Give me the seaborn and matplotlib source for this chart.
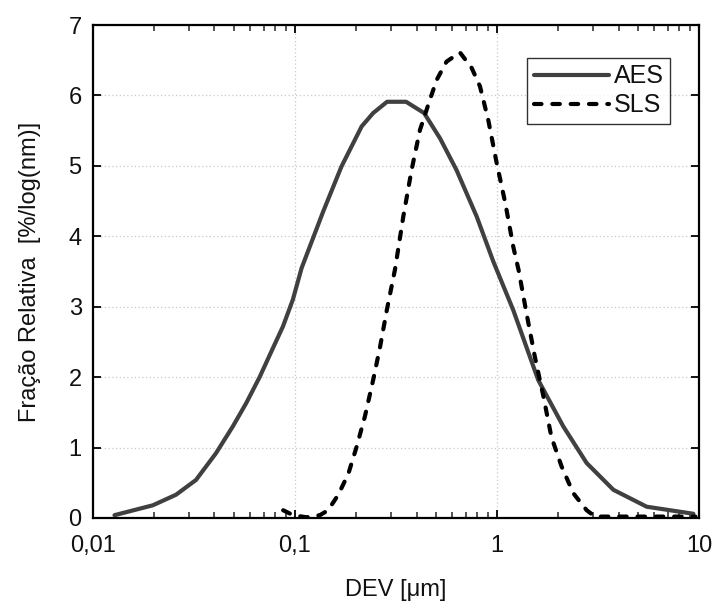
import numpy as np
import pandas as pd
import matplotlib
matplotlib.use("Agg")
import matplotlib.pyplot as plt
import matplotlib.ticker as mticker
import seaborn as sns

aes_x = [0.0128, 0.0198, 0.0258, 0.0324, 0.0407, 0.0493, 0.0574, 0.0669, 0.0778, 0.0873,
         0.0977, 0.108, 0.138, 0.170, 0.214, 0.244, 0.286, 0.355, 0.436, 0.523, 0.631,
         0.794, 0.96, 1.205, 1.60, 2.13, 2.78, 3.77, 5.51, 9.38]
aes_y = [0.04, 0.18, 0.33, 0.54, 0.92, 1.30, 1.63, 2.00, 2.41, 2.72,
         3.10, 3.55, 4.35, 4.99, 5.56, 5.75, 5.91, 5.91, 5.75, 5.39, 4.94,
         4.28, 3.64, 2.95, 1.96, 1.30, 0.78, 0.40, 0.16, 0.06]

sls_x = [0.0875, 0.098, 0.114, 0.133, 0.146, 0.164, 0.184, 0.202, 0.222, 0.244, 0.264,
         0.285, 0.313, 0.344, 0.378, 0.416, 0.466, 0.503, 0.563, 0.656, 0.750, 0.824,
         0.906, 0.997, 1.10, 1.205, 1.28, 1.40, 1.54, 1.70, 1.86, 2.09, 2.39, 2.78,
         3.06, 4.5, 6.5, 9.6]
sls_y = [0.11, 0.04, 0.01, 0.04, 0.11, 0.33, 0.63, 1.01, 1.44, 1.96, 2.43,
         2.95, 3.53, 4.28, 4.94, 5.51, 5.94, 6.22, 6.48, 6.61, 6.39, 6.13,
         5.65, 5.04, 4.47, 3.85, 3.52, 2.91, 2.29, 1.72, 1.15, 0.73, 0.35, 0.11,
         0.02, 0.02, 0.02, 0.02]

df = pd.concat([
    pd.DataFrame({"x": aes_x, "y": aes_y, "serie": "AES"}),
    pd.DataFrame({"x": sls_x, "y": sls_y, "serie": "SLS"}),
])

sns.set_style("ticks")
plt.rcParams["font.family"] = ["Liberation Sans", "DejaVu Sans"]
plt.rcParams["text.color"] = "#111111"
plt.rcParams["axes.labelcolor"] = "#111111"

fig = plt.figure(figsize=(7.14, 6.04), dpi=100)
ax = fig.add_axes([0.130, 0.1424, 0.849, 0.8162])

sns.lineplot(data=df, x="x", y="y", hue="serie", style="serie",
             palette={"AES": "#404040", "SLS": "#000000"},
             dashes={"AES": "", "SLS": (1.8, 2.6)},
             linewidth=3.0, sort=False, estimator=None, ax=ax)
for ln in ax.get_lines():
    ln.set_dash_capstyle("round")

ax.set_xscale("log")
ax.set_xlim(0.01, 10)
ax.set_ylim(0, 7)
ax.set_xticks([0.01, 0.1, 1, 10])
ax.set_xticklabels(["0,01", "0,1", "1", "10"])
ax.xaxis.set_minor_locator(mticker.LogLocator(base=10, subs=np.arange(2, 10)))
ax.xaxis.set_minor_formatter(mticker.NullFormatter())
ax.set_yticks(range(0, 8))
ax.set_yticklabels([str(i) for i in range(0, 8)])

ax.grid(True, which="major", color="#c8c8c8", linestyle=(0, (1, 2)), linewidth=0.9)
for s in ax.spines.values():
    s.set_visible(True)
    s.set_linewidth(1.6)
    s.set_color("black")
ax.tick_params(which="major", direction="in", length=6, width=1.3, labelsize=17,
               top=True, right=True, colors="black", labelcolor="#111111")
ax.tick_params(which="minor", direction="in", length=4, width=1.1, top=True, right=True)
ax.tick_params(axis="x", which="major", pad=12)
ax.tick_params(axis="y", which="major", pad=8)

ax.set_xlabel("DEV [μm]", fontsize=17, labelpad=16)
ax.set_ylabel("Fração Relativa  [%/log(nm)]", fontsize=17, labelpad=20)

leg = ax.legend(loc="upper right", bbox_to_anchor=(0.952, 0.933), fontsize=18,
                frameon=True, fancybox=False, edgecolor="black", handlelength=3.0,
                handletextpad=0.2, borderpad=0.25, labelspacing=0.2, borderaxespad=0)
leg.get_frame().set_linewidth(1.0)
leg.set_title(None)

fig.savefig("out.png", dpi=100)
